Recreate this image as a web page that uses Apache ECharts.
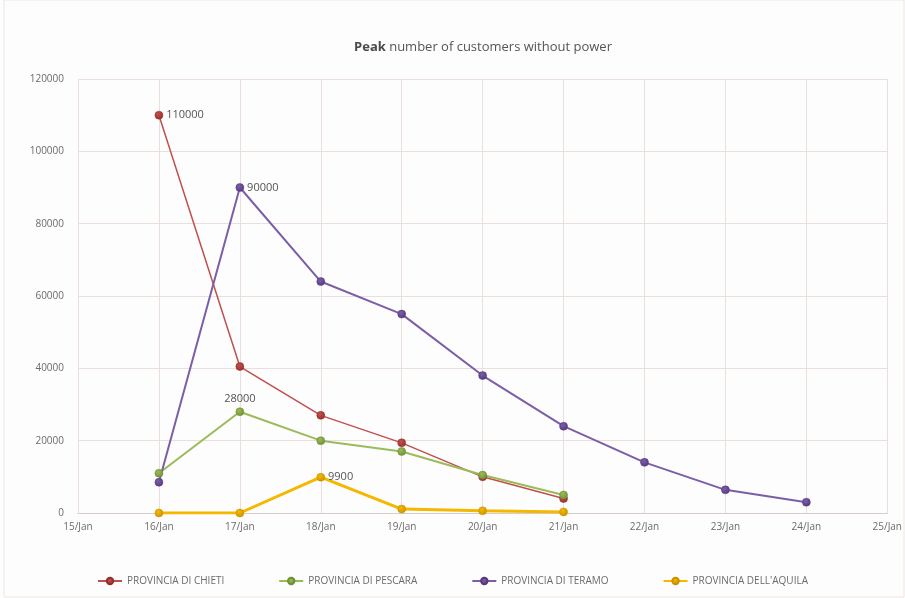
<!DOCTYPE html>
<html>
<head>
<meta charset="utf-8">
<script src="https://cdn.jsdelivr.net/npm/echarts@6/dist/echarts.min.js"></script>
<style>
  html, body { margin: 0; padding: 0; background: #fff; }
  #main { width: 905px; height: 598px; }
</style>
</head>
<body>
<div id="main"></div>
<script>
const days = ['15/Jan', '16/Jan', '17/Jan', '18/Jan', '19/Jan', '20/Jan', '21/Jan', '22/Jan', '23/Jan', '24/Jan', '25/Jan'];

const chieti  = [null, 110000, 40500, 27000, 19400, 10000, 4000, null, null, null, null];
const pescara = [null, 11000, 28000, 20000, 17000, 10500, 5000, null, null, null, null];
const teramo  = [null, 8500, 90000, 64000, 55000, 38000, 24000, 14000, 6400, 3000, null];
const aquila  = [null, 0, 0, 9900, 1100, 600, 300, null, null, null, null];

// which points carry a value label, per series (index into days)
const labelled = { chieti: [1], pescara: [2], teramo: [2], aquila: [3] };

const gridColor = '#eadfdb';
const textColor = '#6b6b6b';

const ball = (c, dark) => ({
  type: 'radial', x: 0.4, y: 0.35, r: 0.7,
  colorStops: [{ offset: 0, color: c }, { offset: 1, color: dark }]
});

const mkSeries = (name, data, color, dark, width, key, pos) => ({
  name: name,
  type: 'line',
  data: data.map((v, i) => ({
    value: v,
    label: labelled[key].indexOf(i) >= 0 ? { show: true } : { show: false }
  })),
  symbol: 'circle',
  symbolSize: 8,
  lineStyle: { color: color, width: width },
  itemStyle: { color: ball(color, dark), borderColor: dark, borderWidth: 0.5 },
  label: {
    position: pos,
    distance: 3,
    color: '#555',
    fontSize: 11,
    fontFamily: 'Open Sans'
  },
  emphasis: { disabled: true },
  z: 3
});

const chart = echarts.init(document.getElementById('main'));
chart.setOption({
  backgroundColor: '#fdfdfd',
  animation: false,
  graphic: [{
    type: 'rect',
    shape: { x: 4, y: 0, width: 900, height: 597 },
    style: { fill: 'none', stroke: '#ece6e3', lineWidth: 1 },
    silent: true
  }],
  title: {
    text: '{b|Peak}{n| number of customers without power}',
    left: 478,
    textAlign: 'center',
    top: 36,
    textStyle: {
      fontWeight: 'normal',
      rich: {
        b: { fontWeight: 'bold', fontSize: 13, color: '#4a4a4a', fontFamily: 'Open Sans' },
        n: { fontWeight: 'normal', fontSize: 13, color: '#555', fontFamily: 'Open Sans' }
      }
    }
  },
  legend: {
    bottom: 7,
    left: 'center',
    itemGap: 54,
    itemWidth: 24,
    itemHeight: 8,
    textStyle: { color: textColor, fontSize: 10, fontFamily: 'Open Sans' },
    data: ['PROVINCIA DI CHIETI', 'PROVINCIA DI PESCARA', 'PROVINCIA DI TERAMO', "PROVINCIA DELL'AQUILA"]
  },
  grid: { left: 78, right: 16, top: 79, bottom: 85 },
  xAxis: {
    type: 'category',
    data: days,
    boundaryGap: false,
    axisLine: { lineStyle: { color: '#d8ccc8' } },
    axisTick: { show: false },
    axisLabel: { color: textColor, fontSize: 10, margin: 9, fontFamily: 'Open Sans' },
    splitLine: { show: true, lineStyle: { color: gridColor } }
  },
  yAxis: {
    type: 'value',
    min: 0,
    max: 120000,
    interval: 20000,
    axisLine: { show: false },
    axisTick: { show: false },
    axisLabel: {
      color: textColor, fontSize: 10, margin: 14, fontFamily: 'Open Sans',
      formatter: v => String(v)
    },
    splitLine: { lineStyle: { color: gridColor } }
  },
  series: [
    mkSeries('PROVINCIA DI CHIETI', chieti, '#c0504d', '#962f2b', 1.5, 'chieti', 'right'),
    mkSeries('PROVINCIA DI PESCARA', pescara, '#9bbb59', '#6f8f34', 2, 'pescara', 'top'),
    mkSeries('PROVINCIA DI TERAMO', teramo, '#7b5ea7', '#55397f', 2, 'teramo', 'right'),
    mkSeries("PROVINCIA DELL'AQUILA", aquila, '#f5b800', '#c89200', 3, 'aquila', 'right')
  ]
});
</script>
</body>
</html>
